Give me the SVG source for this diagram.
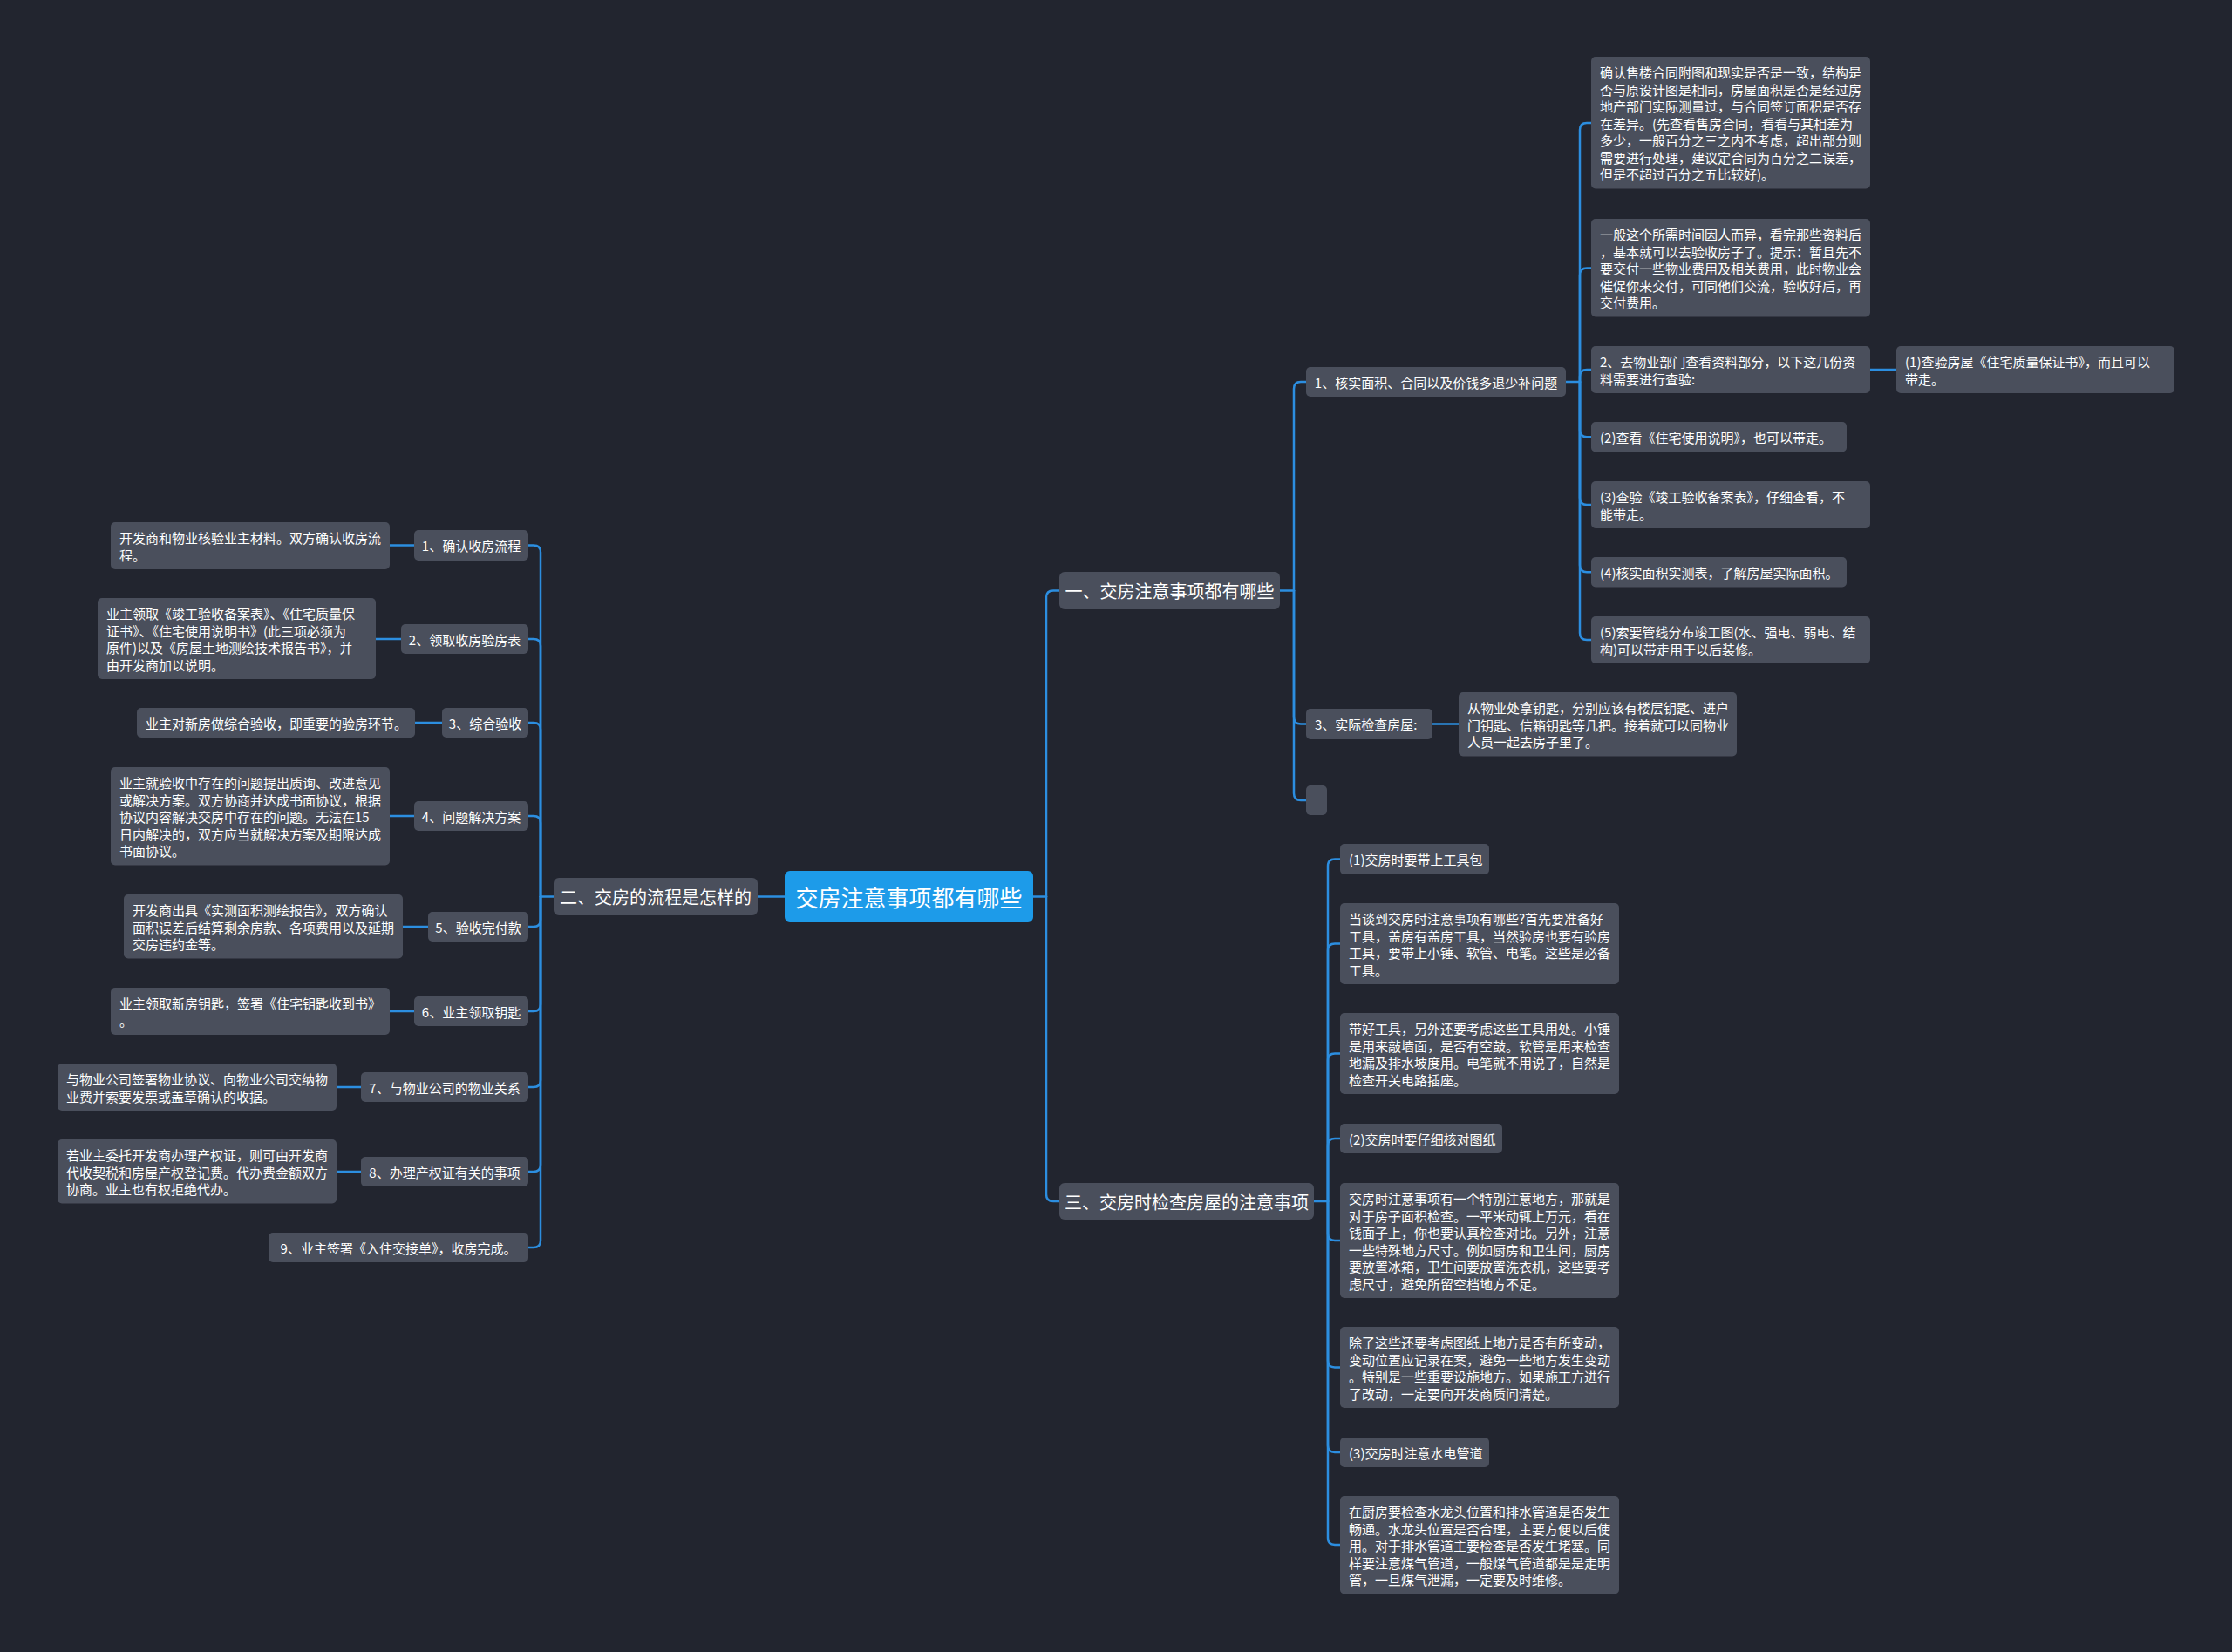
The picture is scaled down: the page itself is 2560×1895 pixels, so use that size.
<svg xmlns="http://www.w3.org/2000/svg" width="2560" height="1895" viewBox="0 0 2560 1895">
<style>
.bg{fill:#22252f}
.n{fill:#4a4f5c}
.root{fill:#1d9be9}
.t{font-family:"Noto Sans CJK SC","Noto Sans",sans-serif;font-size:15px;fill:#ffffff;dominant-baseline:central}
.c{text-anchor:middle}
.b{font-size:20px}
.r{font-size:26px}
.lk{fill:none;stroke:#2c8ee0;stroke-width:2.5;stroke-linecap:round}
</style>
<rect class="bg" x="0" y="0" width="2560" height="1895"/>
<g id="connectors" class="lk">
<path d="M900,1028.5 H869"/>
<path d="M1185,1028.5 H1200"/>
<path d="M1200,1028.5 V685.5 Q1200,677.5 1208,677.5 H1215"/>
<path d="M1200,1028.5 V1370 Q1200,1378 1208,1378 H1215"/>
<path d="M1468,677.5 H1484"/>
<path d="M1484,677.5 V446 Q1484,438 1492,438 H1498"/>
<path d="M1484,677.5 V822.5 Q1484,830.5 1492,830.5 H1498"/>
<path d="M1484,677.5 V910 Q1484,918 1492,918 H1498"/>
<path d="M1796,438 H1812"/>
<path d="M1812,438 V149 Q1812,141 1820,141 H1825"/>
<path d="M1812,438 V315.5 Q1812,307.5 1820,307.5 H1825"/>
<path d="M1812,438 V432 Q1812,424 1820,424 H1825"/>
<path d="M1812,438 V493.25 Q1812,501.25 1820,501.25 H1825"/>
<path d="M1812,438 V571 Q1812,579 1820,579 H1825"/>
<path d="M1812,438 V648.25 Q1812,656.25 1820,656.25 H1825"/>
<path d="M1812,438 V726 Q1812,734 1820,734 H1825"/>
<path d="M2145,424 H2175"/>
<path d="M1643,830.5 H1673"/>
<path d="M1507,1378 H1523"/>
<path d="M1523,1378 V993.5 Q1523,985.5 1531,985.5 H1537"/>
<path d="M1523,1378 V1090.5 Q1523,1082.5 1531,1082.5 H1537"/>
<path d="M1523,1378 V1216.5 Q1523,1208.5 1531,1208.5 H1537"/>
<path d="M1523,1378 V1314 Q1523,1306 1531,1306 H1537"/>
<path d="M1523,1378 V1415 Q1523,1423 1531,1423 H1537"/>
<path d="M1523,1378 V1560.5 Q1523,1568.5 1531,1568.5 H1537"/>
<path d="M1523,1378 V1658 Q1523,1666 1531,1666 H1537"/>
<path d="M1523,1378 V1764 Q1523,1772 1531,1772 H1537"/>
<path d="M635,1028.5 H620"/>
<path d="M620,1028.5 V633.5 Q620,625.5 612,625.5 H606"/>
<path d="M620,1028.5 V741 Q620,733 612,733 H606"/>
<path d="M620,1028.5 V837 Q620,829 612,829 H606"/>
<path d="M620,1028.5 V944 Q620,936 612,936 H606"/>
<path d="M620,1028.5 V1055 Q620,1063 612,1063 H606"/>
<path d="M620,1028.5 V1152 Q620,1160 612,1160 H606"/>
<path d="M620,1028.5 V1239 Q620,1247 612,1247 H606"/>
<path d="M620,1028.5 V1336 Q620,1344 612,1344 H606"/>
<path d="M620,1028.5 V1423 Q620,1431 612,1431 H606"/>
<path d="M475,625.5 H447"/>
<path d="M460,733 H431"/>
<path d="M507,829 H476"/>
<path d="M475,936 H447"/>
<path d="M491,1063 H462"/>
<path d="M475,1160 H447"/>
<path d="M414,1247 H386"/>
<path d="M414,1344 H386"/>
</g>

<g id="root"><rect class="root" x="900" y="999" width="285" height="59" rx="6"/><text class="t c r" x="1042.5" y="1028.5">交房注意事项都有哪些</text></g>

<g id="b1"><rect class="n" x="1215" y="656" width="253" height="43" rx="6"/><text class="t c b" x="1341.5" y="677.5">一、交房注意事项都有哪些</text></g>
<g id="b2"><rect class="n" x="635" y="1007" width="234" height="43" rx="6"/><text class="t c b" x="752" y="1028.5">二、交房的流程是怎样的</text></g>
<g id="b3"><rect class="n" x="1215" y="1357" width="292" height="42" rx="6"/><text class="t c b" x="1361" y="1378">三、交房时检查房屋的注意事项</text></g>

<g id="b1-1"><rect class="n" x="1498" y="421" width="298" height="34" rx="5"/><text class="t c" x="1647" y="438">1、核实面积、合同以及价钱多退少补问题</text></g>
<g id="b1-1-a"><rect class="n" x="1825" y="65" width="320" height="151.5" rx="5"/><text class="t" x="1835"><tspan x="1835" y="82.25">确认售楼合同附图和现实是否是一致，结构是</tspan><tspan x="1835" y="101.75">否与原设计图是相同，房屋面积是否是经过房</tspan><tspan x="1835" y="121.25">地产部门实际测量过，与合同签订面积是否存</tspan><tspan x="1835" y="140.75">在差异。(先查看售房合同，看看与其相差为</tspan><tspan x="1835" y="160.25">多少，一般百分之三之内不考虑，超出部分则</tspan><tspan x="1835" y="179.75">需要进行处理，建议定合同为百分之二误差，</tspan><tspan x="1835" y="199.25">但是不超过百分之五比较好)。</tspan></text></g>
<g id="b1-1-b"><rect class="n" x="1825" y="251" width="320" height="112.5" rx="5"/><text class="t" x="1835"><tspan x="1835" y="268.25">一般这个所需时间因人而异，看完那些资料后</tspan><tspan x="1835" y="287.75">，基本就可以去验收房子了。提示：暂且先不</tspan><tspan x="1835" y="307.25">要交付一些物业费用及相关费用，此时物业会</tspan><tspan x="1835" y="326.75">催促你来交付，可同他们交流，验收好后，再</tspan><tspan x="1835" y="346.25">交付费用。</tspan></text></g>
<g id="b1-1-c"><rect class="n" x="1825" y="397" width="320" height="54" rx="5"/><text class="t" x="1835"><tspan x="1835" y="414.25">2、去物业部门查看资料部分，以下这几份资</tspan><tspan x="1835" y="433.75">料需要进行查验:</tspan></text></g>
<g id="b1-1-c1"><rect class="n" x="2175" y="397" width="319" height="54" rx="5"/><text class="t" x="2185"><tspan x="2185" y="414.25">(1)查验房屋《住宅质量保证书》，而且可以</tspan><tspan x="2185" y="433.75">带走。</tspan></text></g>
<g id="b1-1-d"><rect class="n" x="1825" y="484" width="293" height="34.5" rx="5"/><text class="t" x="1835" y="501.25">(2)查看《住宅使用说明》，也可以带走。</text></g>
<g id="b1-1-e"><rect class="n" x="1825" y="552" width="320" height="54" rx="5"/><text class="t" x="1835"><tspan x="1835" y="569.25">(3)查验《竣工验收备案表》，仔细查看，不</tspan><tspan x="1835" y="588.75">能带走。</tspan></text></g>
<g id="b1-1-f"><rect class="n" x="1825" y="639" width="293" height="34.5" rx="5"/><text class="t" x="1835" y="656.25">(4)核实面积实测表，了解房屋实际面积。</text></g>
<g id="b1-1-g"><rect class="n" x="1825" y="707" width="320" height="54" rx="5"/><text class="t" x="1835"><tspan x="1835" y="724.25">(5)索要管线分布竣工图(水、强电、弱电、结</tspan><tspan x="1835" y="743.75">构)可以带走用于以后装修。</tspan></text></g>

<g id="b1-3"><rect class="n" x="1498" y="813" width="145" height="35" rx="5"/><text class="t" x="1508" y="830.5">3、实际检查房屋:</text></g>
<g id="b1-3-a"><rect class="n" x="1673" y="794" width="319" height="73.5" rx="5"/><text class="t" x="1683"><tspan x="1683" y="811.25">从物业处拿钥匙，分别应该有楼层钥匙、进户</tspan><tspan x="1683" y="830.75">门钥匙、信箱钥匙等几把。接着就可以同物业</tspan><tspan x="1683" y="850.25">人员一起去房子里了。</tspan></text></g>
<g id="b1-empty"><rect class="n" x="1498" y="901" width="24" height="34" rx="5"/></g>

<g id="b3-1"><rect class="n" x="1537" y="968" width="171" height="35" rx="5"/><text class="t" x="1547" y="985.5">(1)交房时要带上工具包</text></g>
<g id="b3-2"><rect class="n" x="1537" y="1036" width="320" height="93" rx="5"/><text class="t" x="1547"><tspan x="1547" y="1053.25">当谈到交房时注意事项有哪些?首先要准备好</tspan><tspan x="1547" y="1072.75">工具，盖房有盖房工具，当然验房也要有验房</tspan><tspan x="1547" y="1092.25">工具，要带上小锤、软管、电笔。这些是必备</tspan><tspan x="1547" y="1111.75">工具。</tspan></text></g>
<g id="b3-3"><rect class="n" x="1537" y="1162" width="320" height="93" rx="5"/><text class="t" x="1547"><tspan x="1547" y="1179.25">带好工具，另外还要考虑这些工具用处。小锤</tspan><tspan x="1547" y="1198.75">是用来敲墙面，是否有空鼓。软管是用来检查</tspan><tspan x="1547" y="1218.25">地漏及排水坡度用。电笔就不用说了，自然是</tspan><tspan x="1547" y="1237.75">检查开关电路插座。</tspan></text></g>
<g id="b3-4"><rect class="n" x="1537" y="1289" width="186" height="34" rx="5"/><text class="t" x="1547" y="1306">(2)交房时要仔细核对图纸</text></g>
<g id="b3-5"><rect class="n" x="1537" y="1357" width="320" height="132" rx="5"/><text class="t" x="1547"><tspan x="1547" y="1374.25">交房时注意事项有一个特别注意地方，那就是</tspan><tspan x="1547" y="1393.75">对于房子面积检查。一平米动辄上万元，看在</tspan><tspan x="1547" y="1413.25">钱面子上，你也要认真检查对比。另外，注意</tspan><tspan x="1547" y="1432.75">一些特殊地方尺寸。例如厨房和卫生间，厨房</tspan><tspan x="1547" y="1452.25">要放置冰箱，卫生间要放置洗衣机，这些要考</tspan><tspan x="1547" y="1471.75">虑尺寸，避免所留空档地方不足。</tspan></text></g>
<g id="b3-6"><rect class="n" x="1537" y="1522" width="320" height="93" rx="5"/><text class="t" x="1547"><tspan x="1547" y="1539.25">除了这些还要考虑图纸上地方是否有所变动，</tspan><tspan x="1547" y="1558.75">变动位置应记录在案，避免一些地方发生变动</tspan><tspan x="1547" y="1578.25">。特别是一些重要设施地方。如果施工方进行</tspan><tspan x="1547" y="1597.75">了改动，一定要向开发商质问清楚。</tspan></text></g>
<g id="b3-7"><rect class="n" x="1537" y="1649" width="171" height="34" rx="5"/><text class="t" x="1547" y="1666">(3)交房时注意水电管道</text></g>
<g id="b3-8"><rect class="n" x="1537" y="1716" width="320" height="112.5" rx="5"/><text class="t" x="1547"><tspan x="1547" y="1733.25">在厨房要检查水龙头位置和排水管道是否发生</tspan><tspan x="1547" y="1752.75">畅通。水龙头位置是否合理，主要方便以后使</tspan><tspan x="1547" y="1772.25">用。对于排水管道主要检查是否发生堵塞。同</tspan><tspan x="1547" y="1791.75">样要注意煤气管道，一般煤气管道都是是走明</tspan><tspan x="1547" y="1811.25">管，一旦煤气泄漏，一定要及时维修。</tspan></text></g>

<g id="b2-1"><rect class="n" x="475" y="608" width="131" height="35" rx="5"/><text class="t c" x="540.5" y="625.5">1、确认收房流程</text></g>
<g id="b2-1-a"><rect class="n" x="127" y="599" width="320" height="54" rx="5"/><text class="t" x="137"><tspan x="137" y="616.25">开发商和物业核验业主材料。双方确认收房流</tspan><tspan x="137" y="635.75">程。</tspan></text></g>
<g id="b2-2"><rect class="n" x="460" y="716" width="146" height="34" rx="5"/><text class="t c" x="533" y="733">2、领取收房验房表</text></g>
<g id="b2-2-a"><rect class="n" x="112" y="686" width="319" height="93" rx="5"/><text class="t" x="122"><tspan x="122" y="703.25">业主领取《竣工验收备案表》、《住宅质量保</tspan><tspan x="122" y="722.75">证书》、《住宅使用说明书》(此三项必须为</tspan><tspan x="122" y="742.25">原件)以及《房屋土地测绘技术报告书》，并</tspan><tspan x="122" y="761.75">由开发商加以说明。</tspan></text></g>
<g id="b2-3"><rect class="n" x="507" y="812" width="99" height="34" rx="5"/><text class="t c" x="556.5" y="829">3、综合验收</text></g>
<g id="b2-3-a"><rect class="n" x="157" y="812" width="319" height="34" rx="5"/><text class="t" x="167" y="829">业主对新房做综合验收，即重要的验房环节。</text></g>
<g id="b2-4"><rect class="n" x="475" y="919" width="131" height="34" rx="5"/><text class="t c" x="540.5" y="936">4、问题解决方案</text></g>
<g id="b2-4-a"><rect class="n" x="127" y="880" width="320" height="112.5" rx="5"/><text class="t" x="137"><tspan x="137" y="897.25">业主就验收中存在的问题提出质询、改进意见</tspan><tspan x="137" y="916.75">或解决方案。双方协商并达成书面协议，根据</tspan><tspan x="137" y="936.25">协议内容解决交房中存在的问题。无法在15</tspan><tspan x="137" y="955.75">日内解决的，双方应当就解决方案及期限达成</tspan><tspan x="137" y="975.25">书面协议。</tspan></text></g>
<g id="b2-5"><rect class="n" x="491" y="1046" width="115" height="34" rx="5"/><text class="t c" x="548.5" y="1063">5、验收完付款</text></g>
<g id="b2-5-a"><rect class="n" x="142" y="1026" width="320" height="73.5" rx="5"/><text class="t" x="152"><tspan x="152" y="1043.25">开发商出具《实测面积测绘报告》，双方确认</tspan><tspan x="152" y="1062.75">面积误差后结算剩余房款、各项费用以及延期</tspan><tspan x="152" y="1082.25">交房违约金等。</tspan></text></g>
<g id="b2-6"><rect class="n" x="475" y="1143" width="131" height="34" rx="5"/><text class="t c" x="540.5" y="1160">6、业主领取钥匙</text></g>
<g id="b2-6-a"><rect class="n" x="127" y="1133" width="320" height="54" rx="5"/><text class="t" x="137"><tspan x="137" y="1150.25">业主领取新房钥匙，签署《住宅钥匙收到书》</tspan><tspan x="137" y="1169.75">。</tspan></text></g>
<g id="b2-7"><rect class="n" x="414" y="1230" width="192" height="34" rx="5"/><text class="t c" x="510" y="1247">7、与物业公司的物业关系</text></g>
<g id="b2-7-a"><rect class="n" x="66" y="1220" width="320" height="54" rx="5"/><text class="t" x="76"><tspan x="76" y="1237.25">与物业公司签署物业协议、向物业公司交纳物</tspan><tspan x="76" y="1256.75">业费并索要发票或盖章确认的收据。</tspan></text></g>
<g id="b2-8"><rect class="n" x="414" y="1327" width="192" height="34" rx="5"/><text class="t c" x="510" y="1344">8、办理产权证有关的事项</text></g>
<g id="b2-8-a"><rect class="n" x="66" y="1307" width="320" height="73.5" rx="5"/><text class="t" x="76"><tspan x="76" y="1324.25">若业主委托开发商办理产权证，则可由开发商</tspan><tspan x="76" y="1343.75">代收契税和房屋产权登记费。代办费金额双方</tspan><tspan x="76" y="1363.25">协商。业主也有权拒绝代办。</tspan></text></g>
<g id="b2-9"><rect class="n" x="308" y="1414" width="298" height="34" rx="5"/><text class="t c" x="457" y="1431">9、业主签署《入住交接单》，收房完成。</text></g>
</svg>
